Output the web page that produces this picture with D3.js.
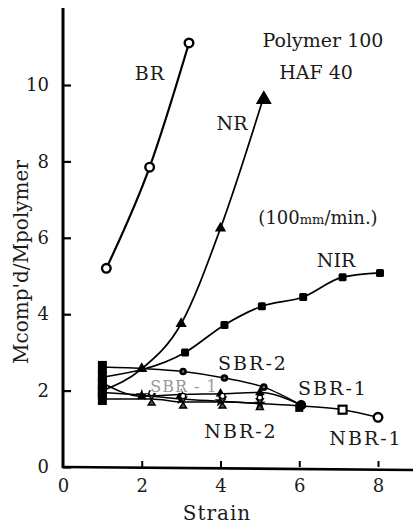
<!DOCTYPE html>
<html>
<head>
<meta charset="utf-8">
<script src="https://cdn.jsdelivr.net/npm/d3@7"></script>
<style>
  html, body { margin: 0; padding: 0; background: #fff; }
  svg { display: block; }
  svg text { font-family: "DejaVu Serif", "Liberation Serif", serif; fill: #1a1a1a; }
</style>
</head>
<body>
<svg id="chart" width="413" height="525"></svg>
<script>
// ---- data ----
const xTicks = [0, 2, 4, 6, 8];
const yTicks = [0, 2, 4, 6, 8, 10];

const brX   = [1.1, 2.2, 3.2];
const brY   = [5.2, 7.85, 11.1];

const nrX   = [1, 2, 3, 4, 5.1];
const nrY   = [2.0, 2.57, 3.75, 6.25, 9.7];

const nirX  = [1, 3.1, 4.1, 5.05, 6.1, 7.1, 8.05];
const nirY  = [2.35, 3.0, 3.72, 4.21, 4.45, 4.97, 5.08];

const sbr2X = [1, 3.05, 4.1, 5.1, 6.05];
const sbr2Y = [2.62, 2.5, 2.33, 2.09, 1.62];

const sbr1X = [1, 2, 3, 4, 5, 6.05];
const sbr1Y = [2.2, 1.85, 1.9, 1.92, 1.95, 1.62];

const nbr1X = [1, 2, 3, 4, 5, 6, 7.1, 8];
const nbr1Y = [1.95, 1.88, 1.78, 1.72, 1.66, 1.6, 1.5, 1.3];

const nbr2X = [1, 2.25, 3.05, 4.05, 5];
const nbr2Y = [1.78, 1.78, 1.7, 1.7, 1.66];

// ---- scales ----
const svg = d3.select("#chart");
const x = d3.scaleLinear().domain([0, 8]).range([63, 378]);
const y = d3.scaleLinear().domain([0, 10]).range([467, 85]);

const zip = (xs, ys) => xs.map((v, i) => ({x: v, y: ys[i]}));
const series = [
  {name: "BR",    pts: zip(brX, brY),     marker: "ocircle", w: 2.2},
  {name: "NR",    pts: zip(nrX, nrY),     marker: "triangle", w: 1.7},
  {name: "NIR",   pts: zip(nirX, nirY),   marker: "square", w: 1.7},
  {name: "SBR-2", pts: zip(sbr2X, sbr2Y), marker: "dot", w: 1.5},
  {name: "SBR-1", pts: zip(sbr1X, sbr1Y), marker: "smalltri", w: 1.5},
  {name: "NBR-1", pts: zip(nbr1X, nbr1Y), marker: "star", w: 1.5},
  {name: "NBR-2", pts: zip(nbr2X, nbr2Y), marker: "hourglass", w: 1.5}
];

const FONT = "DejaVu Serif";

// ---- axes ----
const yAxis = d3.axisLeft(y).tickValues(yTicks).tickSizeInner(-8).tickSizeOuter(0).tickPadding(12);
const xAxis = d3.axisBottom(x).tickValues(xTicks).tickSizeInner(-6).tickSizeOuter(0).tickPadding(12);

const gy = svg.append("g").attr("transform", `translate(${x(0)},0)`).call(yAxis);
const gx = svg.append("g").attr("transform", `translate(0,${y(0)})`).call(xAxis);
gy.attr("font-family", FONT); gx.attr("font-family", FONT);
gy.select(".domain").remove();
gx.select(".domain").remove();
gy.selectAll(".tick line").attr("stroke", "#000").attr("stroke-width", 2.2);
gx.selectAll(".tick line").attr("stroke", "#000").attr("stroke-width", 2);
gy.selectAll(".tick text").attr("font-size", 18).attr("fill", "#222").attr("dx", "-2");
gx.selectAll(".tick text").attr("font-size", 18).attr("fill", "#222");
gx.selectAll(".tick").filter(d => d === 0).select("line").remove();

// axis lines (extended as in reference)
svg.append("line").attr("x1", x(0)).attr("x2", x(0)).attr("y1", 8).attr("y2", y(0) + 1)
  .attr("stroke", "#000").attr("stroke-width", 3);
svg.append("line").attr("x1", x(0) - 1).attr("x2", 413).attr("y1", y(0)).attr("y2", y(0) + 3)
  .attr("stroke", "#000").attr("stroke-width", 2.6);

// axis titles
svg.append("text").attr("x", 217).attr("y", 520).attr("text-anchor", "middle")
  .attr("font-size", 20).attr("letter-spacing", 1).text("Strain");
svg.append("text").attr("transform", "translate(28,262) rotate(-90)").attr("text-anchor", "middle")
  .attr("font-size", 20).text("Mcomp'd/Mpolymer");

// ---- lines ----
const line = d3.line().x(d => x(d.x)).y(d => y(d.y)).curve(d3.curveMonotoneX);
const plot = svg.append("g");
series.forEach(s => {
  plot.append("path").attr("d", line(s.pts)).attr("fill", "none")
    .attr("stroke", "#000").attr("stroke-width", s.w);
});

// ---- markers ----
const tri = d3.symbol().type(d3.symbolTriangle);
const star = d3.symbol().type(d3.symbolStar).size(45);
function drawMarker(g, type, px, py, first) {
  if (first && type !== "ocircle") {
    g.append("rect").attr("x", px - 4.5).attr("y", py - 6).attr("width", 9).attr("height", 12).attr("fill", "#000");
    return;
  }
  switch (type) {
    case "ocircle":
      g.append("circle").attr("cx", px).attr("cy", py).attr("r", 4.3)
        .attr("fill", "#fff").attr("stroke", "#000").attr("stroke-width", 2.4); break;
    case "triangle":
      g.append("path").attr("d", tri.size(55)()).attr("transform", `translate(${px},${py})`).attr("fill", "#000"); break;
    case "smalltri":
      g.append("path").attr("d", tri.size(40)()).attr("transform", `translate(${px},${py})`).attr("fill", "#000"); break;
    case "square":
      g.append("rect").attr("x", px - 4).attr("y", py - 4).attr("width", 8).attr("height", 8).attr("rx", 1.5).attr("fill", "#000"); break;
    case "dot":
      g.append("circle").attr("cx", px).attr("cy", py).attr("r", 3.8).attr("fill", "#000");
      g.append("circle").attr("cx", px).attr("cy", py).attr("r", 1.2).attr("fill", "#777"); break;
    case "star":
      g.append("path").attr("d", star()).attr("transform", `translate(${px},${py})`).attr("fill", "#000"); break;
    case "hourglass":
      g.append("path").attr("d", `M${px-3.5},${py-5}L${px+3.5},${py-5}L${px-3.5},${py+6}L${px+3.5},${py+6}Z`)
        .attr("fill", "#555").attr("stroke", "#000").attr("stroke-width", 1.4);
      g.append("circle").attr("cx", px).attr("cy", py - 6).attr("r", 2.6).attr("fill", "#fff").attr("stroke", "#000").attr("stroke-width", 1.3); break;
  }
}
const mk = svg.append("g");
series.forEach(s => {
  s.pts.forEach((p, i) => {
    const last = i === s.pts.length - 1;
    if (s.name === "NR" && last) {
      mk.append("path").attr("d", tri.size(110)()).attr("transform", `translate(${x(p.x)},${y(p.y) + 3})`).attr("fill", "#000");
    } else if (s.name === "SBR-2" && last) {
      mk.append("circle").attr("cx", x(p.x)).attr("cy", y(p.y)).attr("r", 5).attr("fill", "#000");
    } else if (s.name === "NBR-1" && p.x === 7.1) {
      mk.append("rect").attr("x", x(p.x) - 4).attr("y", y(p.y) - 4).attr("width", 8).attr("height", 8)
        .attr("fill", "#fff").attr("stroke", "#000").attr("stroke-width", 2.2);
    } else if (s.name === "NBR-1" && last) {
      mk.append("circle").attr("cx", x(p.x)).attr("cy", y(p.y)).attr("r", 4.3)
        .attr("fill", "#fff").attr("stroke", "#000").attr("stroke-width", 2.4);
    } else if (s.name === "NBR-1" && p.x === 6) {
      mk.append("rect").attr("x", x(p.x) - 4).attr("y", y(p.y) - 2).attr("width", 8).attr("height", 8).attr("fill", "#000");
    } else {
      drawMarker(mk, s.marker, x(p.x), y(p.y), p.x === 1);
    }
  });
});

// ---- annotations ----
const ann = [
  {t: "Polymer 100", x: 323, y: 47, fs: 19, ls: 0},
  {t: "HAF 40",      x: 316, y: 79, fs: 19, ls: 0},
  {t: "BR",          x: 150, y: 80, fs: 19, ls: 1},
  {t: "NR",          x: 232, y: 130, fs: 19, ls: 0},
  {t: "NIR",         x: 336, y: 267, fs: 19, ls: 0},
  {t: "SBR-2",       x: 253, y: 370, fs: 19, ls: 2},
  {t: "SBR-1",       x: 333, y: 395, fs: 19, ls: 2},
  {t: "NBR-2",       x: 241, y: 438, fs: 19, ls: 2},
  {t: "NBR-1",       x: 366, y: 445, fs: 19, ls: 2}
];
ann.forEach(a => {
  svg.append("text").attr("x", a.x).attr("y", a.y).attr("text-anchor", "middle")
    .attr("font-size", a.fs).attr("letter-spacing", a.ls).text(a.t);
});
const rate = svg.append("text").attr("x", 318).attr("y", 224).attr("text-anchor", "middle")
  .attr("font-size", 18);
rate.append("tspan").text("(100");
rate.append("tspan").attr("font-size", 13).text("mm");
rate.append("tspan").text("/min.)");

svg.append("text").attr("x", 184).attr("y", 392).attr("text-anchor", "middle")
  .attr("font-size", 16).attr("letter-spacing", 1)
  .attr("stroke", "#fff").attr("stroke-width", 2).attr("paint-order", "stroke")
  .style("fill", "#9a9a9a").text("SBR - 1");
</script>
</body>
</html>
